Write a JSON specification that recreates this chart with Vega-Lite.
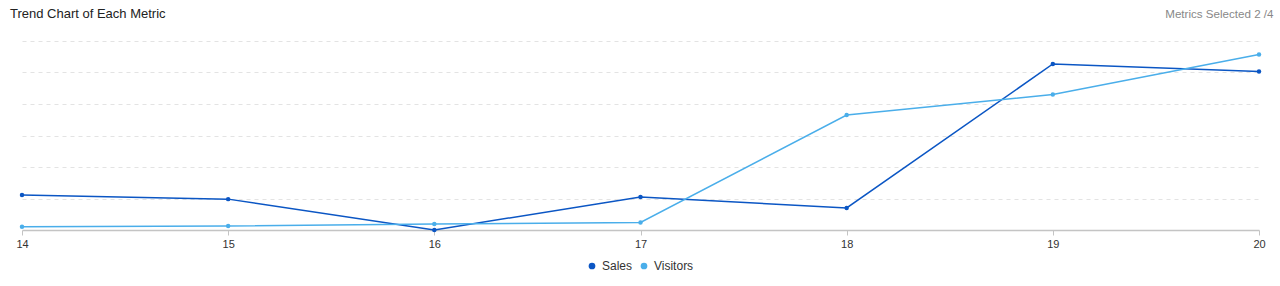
{
  "$schema": "https://vega.github.io/schema/vega-lite/v6.json",
  "width": 1237,
  "height": 189,
  "autosize": {"type": "none"},
  "padding": {"left": 22, "right": 21, "top": 41, "bottom": 56},
  "background": "white",
  "config": {"view": {"stroke": null}},
  "title": {
    "text": "Trend Chart of Each Metric",
    "anchor": "start",
    "frame": "group",
    "dx": -12,
    "offset": -23,
    "baseline": "alphabetic",
    "fontSize": 13,
    "fontWeight": "normal",
    "color": "#222222",
    "font": "Liberation Sans"
  },
  "data": {
    "values": [
      {"day": 14, "metric": "Sales", "value": 1.11},
      {"day": 15, "metric": "Sales", "value": 0.98},
      {"day": 16, "metric": "Sales", "value": 0.0},
      {"day": 17, "metric": "Sales", "value": 1.05},
      {"day": 18, "metric": "Sales", "value": 0.70},
      {"day": 19, "metric": "Sales", "value": 5.27},
      {"day": 20, "metric": "Sales", "value": 5.03},
      {"day": 14, "metric": "Visitors", "value": 0.1},
      {"day": 15, "metric": "Visitors", "value": 0.13},
      {"day": 16, "metric": "Visitors", "value": 0.19},
      {"day": 17, "metric": "Visitors", "value": 0.24},
      {"day": 18, "metric": "Visitors", "value": 3.65},
      {"day": 19, "metric": "Visitors", "value": 4.3},
      {"day": 20, "metric": "Visitors", "value": 5.57}
    ]
  },
  "layer": [
    {
      "mark": {"type": "line", "strokeWidth": 1.5, "point": {"filled": true, "size": 20, "opacity": 1}},
      "encoding": {
        "x": {
          "field": "day",
          "type": "quantitative",
          "scale": {"domain": [14, 20], "nice": false, "zero": false},
          "axis": {
            "values": [14, 15, 16, 17, 18, 19, 20],
            "format": "d",
            "title": null,
            "grid": false,
            "domainColor": "#c4c4c4",
            "domainWidth": 1.5,
            "tickColor": "#c4c4c4",
            "tickSize": 5,
            "labelFont": "Liberation Sans",
            "labelFontSize": 11,
            "labelColor": "#333333",
            "labelPadding": 3,
            "labelFlush": false
          }
        },
        "y": {
          "field": "value",
          "type": "quantitative",
          "scale": {"domain": [0, 6], "nice": false},
          "axis": {
            "values": [1, 2, 3, 4, 5, 6],
            "title": null,
            "labels": false,
            "ticks": false,
            "domain": false,
            "grid": true,
            "gridColor": "#e3e3e3",
            "gridDash": [4, 4],
            "gridWidth": 1
          }
        },
        "color": {
          "field": "metric",
          "type": "nominal",
          "scale": {"domain": ["Sales", "Visitors"], "range": ["#0b56c4", "#4aaeea"]},
          "legend": {
            "title": null,
            "orient": "none",
            "legendX": 564,
            "legendY": 219,
            "direction": "horizontal",
            "symbolType": "circle",
            "symbolSize": 45,
            "symbolStrokeWidth": 0,
            "labelFont": "Liberation Sans",
            "labelFontSize": 12,
            "labelColor": "#333333",
            "columnPadding": 5
          }
        }
      }
    },
    {
      "mark": {"type": "point", "opacity": 0},
      "encoding": {
        "x": {
          "field": "day",
          "type": "quantitative",
          "axis": {
            "orient": "top",
            "labels": false,
            "ticks": false,
            "domain": false,
            "grid": false,
            "title": "Metrics Selected 2 /4",
            "titleFont": "Liberation Sans",
            "titleFontSize": 11.6,
            "titleFontWeight": "normal",
            "titleColor": "#888888",
            "titleX": 1251,
            "titleY": -24,
            "titleAlign": "right",
            "titleBaseline": "alphabetic",
            "titleAnchor": null
          }
        }
      }
    }
  ],
  "resolve": {"axis": {"x": "independent"}}
}
